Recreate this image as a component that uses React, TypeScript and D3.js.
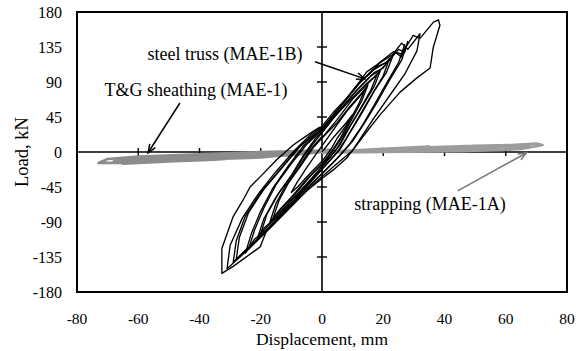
import * as d3 from 'd3';

type Pt = [number, number];

// axis ticks
const xTicks = [-80, -60, -40, -20, 0, 20, 40, 60, 80];
const yTicks = [-180, -135, -90, -45, 0, 45, 90, 135, 180];

// steel truss (MAE-1B) cycles, [displacement mm, load kN]
const truss1: Pt[] = [[0, 0], [4, 20], [8, 38], [10, 48], [8, 35], [5, 18], [3, 4], [0, -12], [-4, -28], [-8, -45], [-10, -52], [-8, -38], [-5, -20], [-2, -3], [0, 8]];
const truss2: Pt[] = [[0, 8], [4, 30], [8, 52], [12, 70], [14, 80], [12, 62], [9, 40], [6, 18], [3, 0], [0, -15], [-5, -35], [-10, -58], [-14, -75], [-16, -85], [-14, -62], [-11, -40], [-7, -18], [-3, 5], [0, 18]];
const truss2b: Pt[] = [[0, 18], [5, 38], [9, 58], [13, 76], [15, 86], [13, 66], [10, 44], [7, 22], [4, 4], [1, -12], [-4, -32], [-9, -55], [-13, -72], [-17, -90], [-15, -66], [-12, -44], [-8, -22], [-4, 2], [0, 20]];
const truss3: Pt[] = [[0, 18], [5, 42], [10, 68], [15, 88], [18, 100], [16, 80], [12, 52], [8, 26], [5, 5], [1, -14], [-4, -38], [-10, -62], [-16, -88], [-20, -105], [-18, -80], [-14, -52], [-9, -25], [-5, 0], [0, 25]];
const truss3b: Pt[] = [[0, 25], [4, 45], [9, 66], [14, 86], [17, 96], [19, 104], [17, 84], [13, 58], [9, 32], [6, 10], [2, -10], [-3, -32], [-9, -58], [-15, -84], [-19, -98], [-21, -110], [-19, -86], [-15, -58], [-10, -30], [-6, -4], [-2, 18], [0, 26]];
const truss4: Pt[] = [[0, 25], [6, 55], [12, 82], [17, 102], [20, 108], [22, 120], [20, 98], [16, 72], [12, 45], [8, 18], [5, 0], [0, -22], [-6, -48], [-13, -78], [-19, -105], [-24, -125], [-22, -100], [-19, -72], [-15, -42], [-10, -15], [-5, 10], [0, 28]];
const truss4b: Pt[] = [[0, 28], [5, 50], [11, 78], [16, 98], [19, 105], [23, 122], [21, 102], [17, 78], [13, 50], [9, 24], [6, 4], [1, -18], [-5, -44], [-12, -74], [-18, -100], [-22, -112], [-25, -130], [-23, -104], [-20, -76], [-16, -46], [-11, -18], [-6, 8], [0, 30]];
const truss5: Pt[] = [[0, 28], [6, 58], [12, 88], [18, 110], [21, 115], [24, 128], [26, 122], [27, 138], [25, 115], [21, 88], [17, 60], [13, 33], [9, 10], [5, -8], [0, -28], [-7, -55], [-14, -85], [-21, -112], [-28, -138], [-27, -110], [-24, -78], [-19, -48], [-13, -20], [-7, 8], [0, 30]];
const truss5b: Pt[] = [[0, 30], [5, 54], [11, 84], [17, 106], [22, 118], [25, 132], [27, 128], [28, 142], [26, 118], [22, 92], [18, 64], [14, 38], [10, 14], [6, -4], [1, -24], [-6, -50], [-13, -80], [-20, -108], [-26, -130], [-29, -142], [-28, -114], [-25, -82], [-20, -52], [-14, -24], [-8, 4], [-2, 26], [0, 32]];
const truss6: Pt[] = [[0, 30], [7, 63], [13, 92], [19, 115], [23, 125], [26, 140], [28, 132], [32, 152], [31, 130], [27, 100], [22, 72], [17, 44], [13, 20], [10, 2], [4, -18], [-3, -42], [-10, -70], [-17, -98], [-24, -125], [-31, -150], [-30, -120], [-26, -85], [-21, -55], [-15, -25], [-9, 2], [-3, 25], [0, 33]];
const truss7: Pt[] = [[0, 33], [3.7, 51], [9, 73], [14.6, 103], [17.9, 112], [23.3, 129], [26, 126], [29.8, 150], [32, 146], [36.4, 167], [38, 170], [38.5, 163], [36.3, 134], [35.3, 108], [30.9, 95], [25.5, 77], [19, 48], [14.6, 26], [11.3, 9], [8, -8], [3.7, -23], [0, -34], [-7.2, -57], [-12.6, -79], [-18, -100], [-20.2, -122], [-29, -147], [-32.7, -156], [-32.7, -124], [-29, -83], [-25.8, -62], [-23.5, -45], [-20.2, -32], [-14.8, -10], [-9.4, 9], [-3.9, 24], [-0.7, 32]];
const trussCycles = [truss1, truss2, truss2b, truss3, truss3b, truss4, truss4b, truss5, truss5b, truss6, truss7];

// T&G sheathing (MAE-1)
const sheathing: Pt[] = [[0, 0], [-10, -4], [-20, -6], [-10, -1], [0, 2], [3, 3], [0, 0], [-20, -7], [-35, -9], [-20, -3], [0, 1], [-35, -10], [-50, -12], [-35, -5], [-20, -2], [0, 1], [-50, -12], [-65, -15], [-50, -7], [-30, -3], [-10, 0], [0, 2], [-40, -10], [-60, -14], [-73, -14], [-70, -9], [-60, -6], [-40, -3], [-20, 0], [0, 2], [-30, -6], [-55, -10], [-68, -12], [-62, -8], [-45, -5], [-25, -2], [-5, 1]];

// strapping (MAE-1A)
const strapping: Pt[] = [[0, 0], [10, 2], [20, 4], [10, 1], [0, 0], [20, 4], [35, 7], [25, 3], [10, 1], [0, 0], [35, 6], [50, 8], [40, 4], [25, 2], [10, 0], [50, 8], [62, 9], [70, 11], [72, 9], [65, 4], [50, 2], [30, 1], [10, 0], [30, 3], [55, 6], [68, 8], [62, 3], [45, 1], [20, 0], [0, -1]];

// annotations: label, text anchor point, arrow from, arrow to
const notes = [
  { text: 'steel truss (MAE-1B)', at: [-57, 118] as Pt, from: [-2.3, 116] as Pt, to: [14, 94] as Pt, color: '#000' },
  { text: 'T&G sheathing (MAE-1)', at: [-71, 72] as Pt, from: [-46.4, 63] as Pt, to: [-56.8, -1] as Pt, color: '#000' },
  { text: 'strapping (MAE-1A)', at: [10.5, -75] as Pt, from: [44.3, -50] as Pt, to: [66.8, -1] as Pt, color: '#777' },
];

const W = 585, H = 351;
const m = { left: 77, right: 18, top: 12, bottom: 59 };
const font = "'Liberation Serif', 'DejaVu Serif', serif";

export default function App() {
  const x = d3.scaleLinear().domain([-80, 80]).range([m.left, W - m.right]);
  const y = d3.scaleLinear().domain([-180, 180]).range([H - m.bottom, m.top]);
  const line = d3.line<Pt>().x(d => x(d[0])).y(d => y(d[1]));

  const arrowHead = (from: Pt, to: Pt) => {
    const x1 = x(from[0]), y1 = y(from[1]), x2 = x(to[0]), y2 = y(to[1]);
    const a = Math.atan2(y2 - y1, x2 - x1);
    const L = 9, s = 0.38;
    return `M${x2 - L * Math.cos(a - s)},${y2 - L * Math.sin(a - s)}L${x2},${y2}L${x2 - L * Math.cos(a + s)},${y2 - L * Math.sin(a + s)}`;
  };

  const txt = { fontFamily: font };

  return (
    <svg width={W} height={H} style={{ position: 'absolute', left: 0, top: 0, background: '#fff' }}>
      {/* zero axes with cross ticks */}
      <line x1={x(-80)} x2={x(80)} y1={y(0)} y2={y(0)} stroke="#000" strokeWidth={1.6} />
      <line x1={x(0)} x2={x(0)} y1={y(-180)} y2={y(180)} stroke="#000" strokeWidth={1.6} />
      {xTicks.filter(t => Math.abs(t) !== 80 && t !== 0).map(t => (
        <line key={'xt' + t} x1={x(t)} x2={x(t)} y1={y(0) - 4} y2={y(0) + 4} stroke="#000" strokeWidth={1.4} />
      ))}
      {yTicks.filter(t => Math.abs(t) !== 180 && t !== 0).map(t => (
        <line key={'yt' + t} x1={x(0) - 5} x2={x(0) + 5} y1={y(t)} y2={y(t)} stroke="#000" strokeWidth={1.4} />
      ))}

      {/* series */}
      <path d={line(sheathing)!} fill="none" stroke="#8c8c8c" strokeWidth={2.6} strokeLinejoin="round" />
      <path d={line(strapping)!} fill="none" stroke="#9c9c9c" strokeWidth={2.6} strokeLinejoin="round" />
      {trussCycles.map((c, i) => (
        <path key={i} d={line(c)!} fill="none" stroke="#000" strokeWidth={1.35} strokeLinejoin="round" />
      ))}

      {/* frame */}
      <rect x={x(-80)} y={y(180)} width={x(80) - x(-80)} height={y(-180) - y(180)} fill="none" stroke="#000" strokeWidth={2} />

      {/* tick labels */}
      {yTicks.map(t => (
        <text key={'yl' + t} x={62} y={y(t)} dy="0.35em" textAnchor="end" fontSize={16} style={txt}>{t}</text>
      ))}
      {xTicks.map(t => (
        <text key={'xl' + t} x={x(t)} y={324} textAnchor="middle" fontSize={15.5} style={txt}>{t}</text>
      ))}
      <text x={x(0)} y={345} textAnchor="middle" fontSize={17.5} style={txt}>Displacement, mm</text>
      <text transform={`translate(28,${152}) rotate(-90)`} textAnchor="middle" fontSize={18.5} style={txt}>Load, kN</text>

      {/* annotations */}
      {notes.map(n => (
        <g key={n.text}>
          <text x={x(n.at[0])} y={y(n.at[1])} fontSize={18} style={txt}>{n.text}</text>
          <line x1={x(n.from[0])} y1={y(n.from[1])} x2={x(n.to[0])} y2={y(n.to[1])} stroke={n.color} strokeWidth={1.5} />
          <path d={arrowHead(n.from, n.to)} fill="none" stroke={n.color} strokeWidth={1.5} />
        </g>
      ))}
    </svg>
  );
}
